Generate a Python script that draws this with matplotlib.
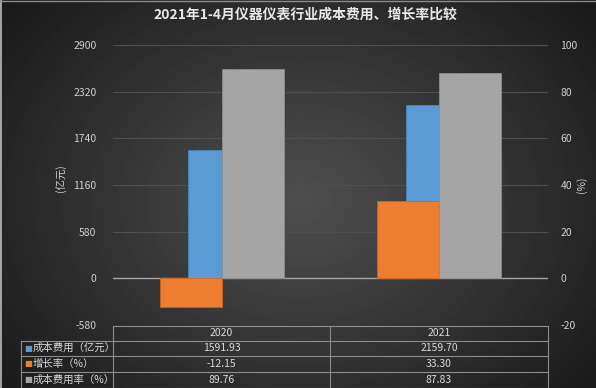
import matplotlib.pyplot as plt
import numpy as np

plt.rcParams["font.family"] = ["Noto Sans CJK SC", "DejaVu Sans"]
plt.rcParams["axes.unicode_minus"] = False

years = ["2020", "2021"]
cost = [1591.93, 2159.70]          # 成本费用（亿元）
growth = [-12.15, 33.30]           # 增长率（%）
cost_rate = [89.76, 87.83]         # 成本费用率（%）

series_names = ["成本费用（亿元）", "增长率（%）", "成本费用率（%）"]
series_colors = ["#5b9bd5", "#ed7d31", "#a5a5a5"]
left_ticks = [-580, 0, 580, 1160, 1740, 2320, 2900]
right_ticks = [-20, 0, 20, 40, 60, 80, 100]

W, H = 596, 388


def fx(x):
    return x / W


def fy(y):
    return 1 - y / H


fig = plt.figure(figsize=(W / 100, H / 100), dpi=100)

# radial gradient background
bg = fig.add_axes([0, 0, 1, 1])
yy, xx = np.mgrid[0:H, 0:W]
r = np.sqrt(((xx - 300) / 330) ** 2 + ((yy - 200) / 260) ** 2)
shade = np.clip(0.31 - 0.18 * r, 0.1, 0.4)
bg.imshow(shade, cmap="gray", vmin=0, vmax=1, aspect="auto",
          extent=[0, W, H, 0])
bg.set_xlim(0, W)
bg.set_ylim(H, 0)
bg.axis("off")
bg.plot([0.5, 0.5], [0, H], color="#bdbdbd", lw=1.2)
bg.plot([0, W], [0.5, 0.5], color="#8a8a8a", lw=1)

ax = fig.add_axes([fx(113), fy(325), fx(548) - fx(113), (325 - 45) / H])
ax.set_facecolor("none")
ax2 = ax.twinx()

x = np.arange(len(years))
bw = 0.285

ax.bar(x, cost, width=0.31, color=series_colors[0],
       edgecolor="#4a86c0", lw=0.6, zorder=3)
ax2.bar(x - bw / 2, growth, width=bw, color=series_colors[1],
        edgecolor="#c9641f", lw=0.6, zorder=3)
ax2.bar(x + bw / 2, cost_rate, width=bw, color=series_colors[2],
        edgecolor="#8c8c8c", lw=0.6, zorder=3)

ax.set_xlim(-0.5, 1.5)
ax.set_ylim(-580, 2900)
ax2.set_ylim(-20, 100)
ax.set_yticks(left_ticks)
ax2.set_yticks(right_ticks)
ax.set_xticks([])

for a in (ax, ax2):
    for s in a.spines.values():
        s.set_visible(False)
    a.tick_params(length=0, colors="#d0d0d0", labelsize=7.5)
ax.tick_params(axis="y", pad=12)
ax2.tick_params(axis="y", pad=9)

for t in left_ticks[2:]:
    ax.axhline(t, color="#4f4f4f", lw=0.8, zorder=1)
ax.axhline(0, color="#a6a6a6", lw=1, zorder=5)

fig.text(fx(61), fy(178), "(亿元)", rotation=90, ha="center", va="center",
         color="#d0d0d0", fontsize=7.5)
fig.text(fx(582), fy(185), "(%)", rotation=90, ha="center", va="center",
         color="#d0d0d0", fontsize=7.5)

fig.text(fx(305), fy(15), "2021年1-4月仪器仪表行业成本费用、增长率比较",
         ha="center", va="center", color="#e8e8e8", fontsize=10,
         fontweight="bold")

# data table
line_c = "#8c8c8c"
rows_y = [325.5, 340.5, 356, 371.7, 387.5]
col_x = [21, 113, 330, 548]
bg.plot([col_x[1], col_x[3]], [rows_y[0]] * 2, color=line_c, lw=0.8)
for yv in rows_y[1:]:
    bg.plot([col_x[0], col_x[3]], [yv] * 2, color=line_c, lw=0.8)
bg.plot([col_x[0]] * 2, [rows_y[1], rows_y[-1]], color=line_c, lw=0.8)
for xv in col_x[1:]:
    bg.plot([xv] * 2, [rows_y[0], rows_y[-1]], color=line_c, lw=0.8)

txt = dict(color="#dadada", fontsize=7.5, va="center")
for i, yr in enumerate(years):
    cx = (col_x[i + 1] + col_x[i + 2]) / 2
    bg.text(cx, (rows_y[0] + rows_y[1]) / 2, yr, ha="center", **txt)

values = [cost, growth, cost_rate]
for j, (name, color, vals) in enumerate(zip(series_names, series_colors, values)):
    cy = (rows_y[j + 1] + rows_y[j + 2]) / 2
    bg.text(24, cy, "■", ha="left", color=color, fontsize=6, va="center",
            family=["DejaVu Sans"])
    bg.text(33, cy, name, ha="left", **txt)
    for i, v in enumerate(vals):
        cx = (col_x[i + 1] + col_x[i + 2]) / 2
        bg.text(cx, cy, f"{v:.2f}", ha="center", **txt)

fig.savefig("out.png", dpi=100)
